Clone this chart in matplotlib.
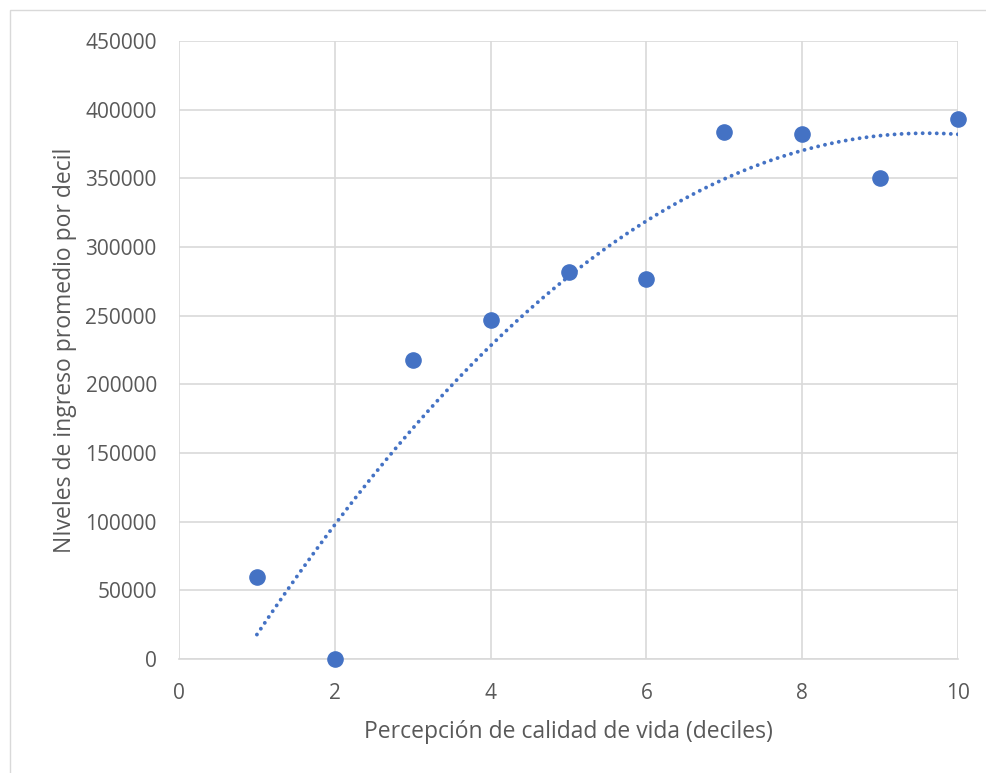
import numpy as np
import matplotlib
matplotlib.use('Agg')
import matplotlib.pyplot as plt

plt.rcParams['font.family'] = ['Open Sans', 'DejaVu Sans']

# data
deciles = [1, 2, 3, 4, 5, 6, 7, 8, 9, 10]
ingreso = [60000, 0, 217500, 247000, 282000, 276500, 383500, 382000, 350000, 393500]

# 2nd order polynomial trendline, as in Excel
coeffs = np.polyfit(deciles, ingreso, 2)
trend = np.poly1d(coeffs)
x_fit = np.linspace(1, 10, 200)

fig = plt.figure(figsize=(9.86, 7.73), dpi=100)
ax = fig.add_axes([179/986, 1 - 659/773, (958-179)/986, (659-41)/773])

ax.plot(x_fit, trend(x_fit), color='#4472C4', linestyle=(0, (0.01, 1.8)), linewidth=2.8,
        dash_capstyle='round', zorder=2)
ax.scatter(deciles, ingreso, s=120, color='#4472C4', zorder=3, clip_on=False)

ax.set_xlim(0, 10)
ax.set_ylim(0, 450000)
ax.set_xticks(np.arange(0, 11, 2))
ax.set_yticks(np.arange(0, 450001, 50000))
ax.grid(color='#D9D9D9', linewidth=1.2)
ax.set_axisbelow(True)
for s in ['top', 'right', 'left']:
    ax.spines[s].set_visible(False)
ax.spines['bottom'].set_color('#D9D9D9')
ax.spines['bottom'].set_linewidth(1.2)
ax.tick_params(length=0, labelsize=15, colors='#595959')
ax.tick_params(axis='y', pad=16)
ax.tick_params(axis='x', pad=17)

ax.set_xlabel('Percepción de calidad de vida (deciles)', fontsize=16.5, color='#595959', labelpad=12)
ax.set_ylabel('NIveles de ingreso promedio por decil', fontsize=16.5, color='#595959', labelpad=6)

# chart border (right and bottom edges fall outside the picture)
fig.patches.append(plt.Rectangle((10/986, -0.01), 1.02, 1.01 - 10/773, transform=fig.transFigure,
                                 fill=False, edgecolor='#D9D9D9', linewidth=1))

fig.savefig('out.png', dpi=100)
